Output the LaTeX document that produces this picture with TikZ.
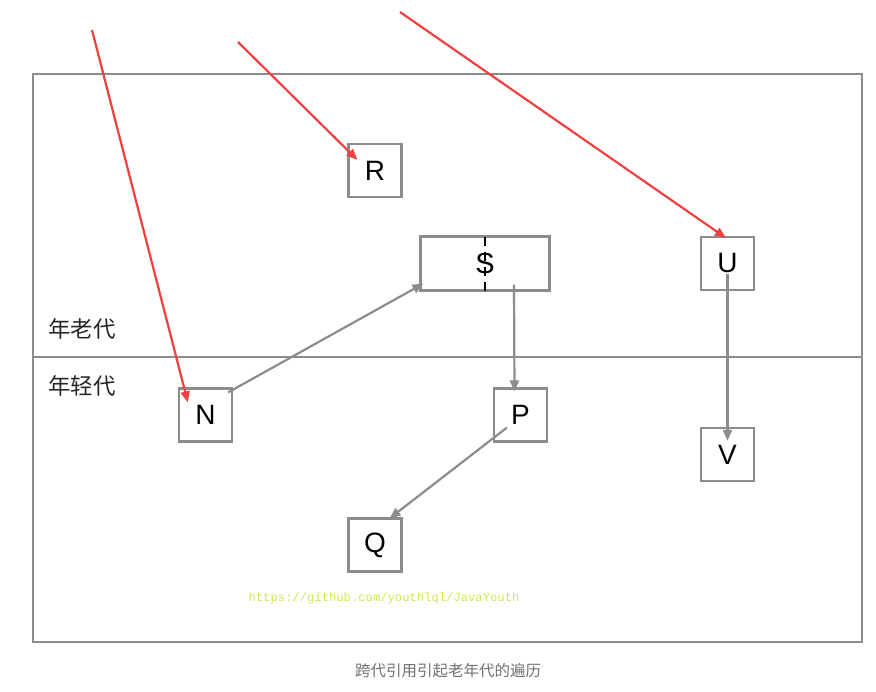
\documentclass[tikz,border=0pt]{standalone}
\usepackage{fontspec}
\setmainfont{Liberation Sans}
\setmonofont{Liberation Mono}
\newfontfamily\cjk{Noto Sans CJK SC}
\usetikzlibrary{arrows.meta,calc}
\definecolor{framegray}{HTML}{8C8C8C}
\definecolor{redarrow}{HTML}{F04040}
\definecolor{wmgreen}{HTML}{C8EA55}
\definecolor{capgray}{HTML}{707070}
\begin{document}
\begin{tikzpicture}[x=1pt,y=-1pt,
  box/.style={draw=framegray,line width=2.2pt,minimum width=53pt,minimum height=53pt,inner sep=0pt,
    font=\fontsize{28}{28}\selectfont,text=black},
  redarr/.style={draw=redarrow,line width=2.2pt,-{Triangle[length=11pt,width=9pt]}},
  grayarr/.style={draw=framegray,line width=2.2pt,-{Triangle[length=11pt,width=9pt]}},
  genlabel/.style={font=\cjk\fontsize{22.5}{22.5}\selectfont,text=black!85,inner sep=0pt}]
\useasboundingbox (0,0) rectangle (876,692);
% frame
\draw[framegray,line width=2.2pt] (33,74) rectangle (862,642);
\draw[framegray,line width=2.2pt] (33,357) -- (862,357);
\node[genlabel] (old) at (82,329) {年老代};
\node[genlabel] (young) at (82,386) {年轻代};
% boxes
\node[box] (R) at (375,170.5) {R};
\node[box,minimum width=129pt,minimum height=54pt] (S) at (485,263.5) {};
\draw[black,line width=2.6pt,dash pattern=on 9pt off 6pt] (485,237) -- (485,291);
\node[font=\fontsize{29}{29}\selectfont,inner sep=0pt] (Stext) at (485,264) {S};
\node[box] (U) at (727.5,263.5) {U};
\node[box] (N) at (205.5,415) {N};
\node[box] (P) at (520.5,415) {P};
\node[box] (V) at (727.5,454.5) {V};
\node[box] (Q) at (375,545) {Q};
% red arrows from outside
\coordinate (r1) at (92,30);
\coordinate (r2) at (238,42);
\coordinate (r3) at (400,12);
\draw[redarr] (r1) -- ($(N.north west)+(10,15)$);
\draw[redarr] (r2) -- ($(R.north west)+(10,17)$);
\draw[redarr] (r3) -- ($(U.north west)+(26,2)$);
% gray arrows
\draw[grayarr] ($(N.north east)+(-5,5)$) -- ($(S.south west)+(4,-8)$);
\draw[grayarr] ($(S.south)+(29,-7)$) -- ($(P.north)+(-6,4)$);
\draw[grayarr] ($(P.south west)+(14,-15)$) -- ($(Q.north east)+(-13,1)$);
\draw[grayarr] ($(U.south)+(0,-17)$) -- ($(V.north)+(0,14)$);
% watermark and caption
\node[font=\ttfamily\fontsize{12.2}{12.2}\selectfont,text=wmgreen,inner sep=0pt] (wm) at (384,598) {https://github.com/youthlql/JavaYouth};
\node[font=\cjk\fontsize{15.5}{15.5}\selectfont,text=capgray,inner sep=0pt] (cap) at (448,671) {跨代引用引起老年代的遍历};
\end{tikzpicture}
\end{document}
